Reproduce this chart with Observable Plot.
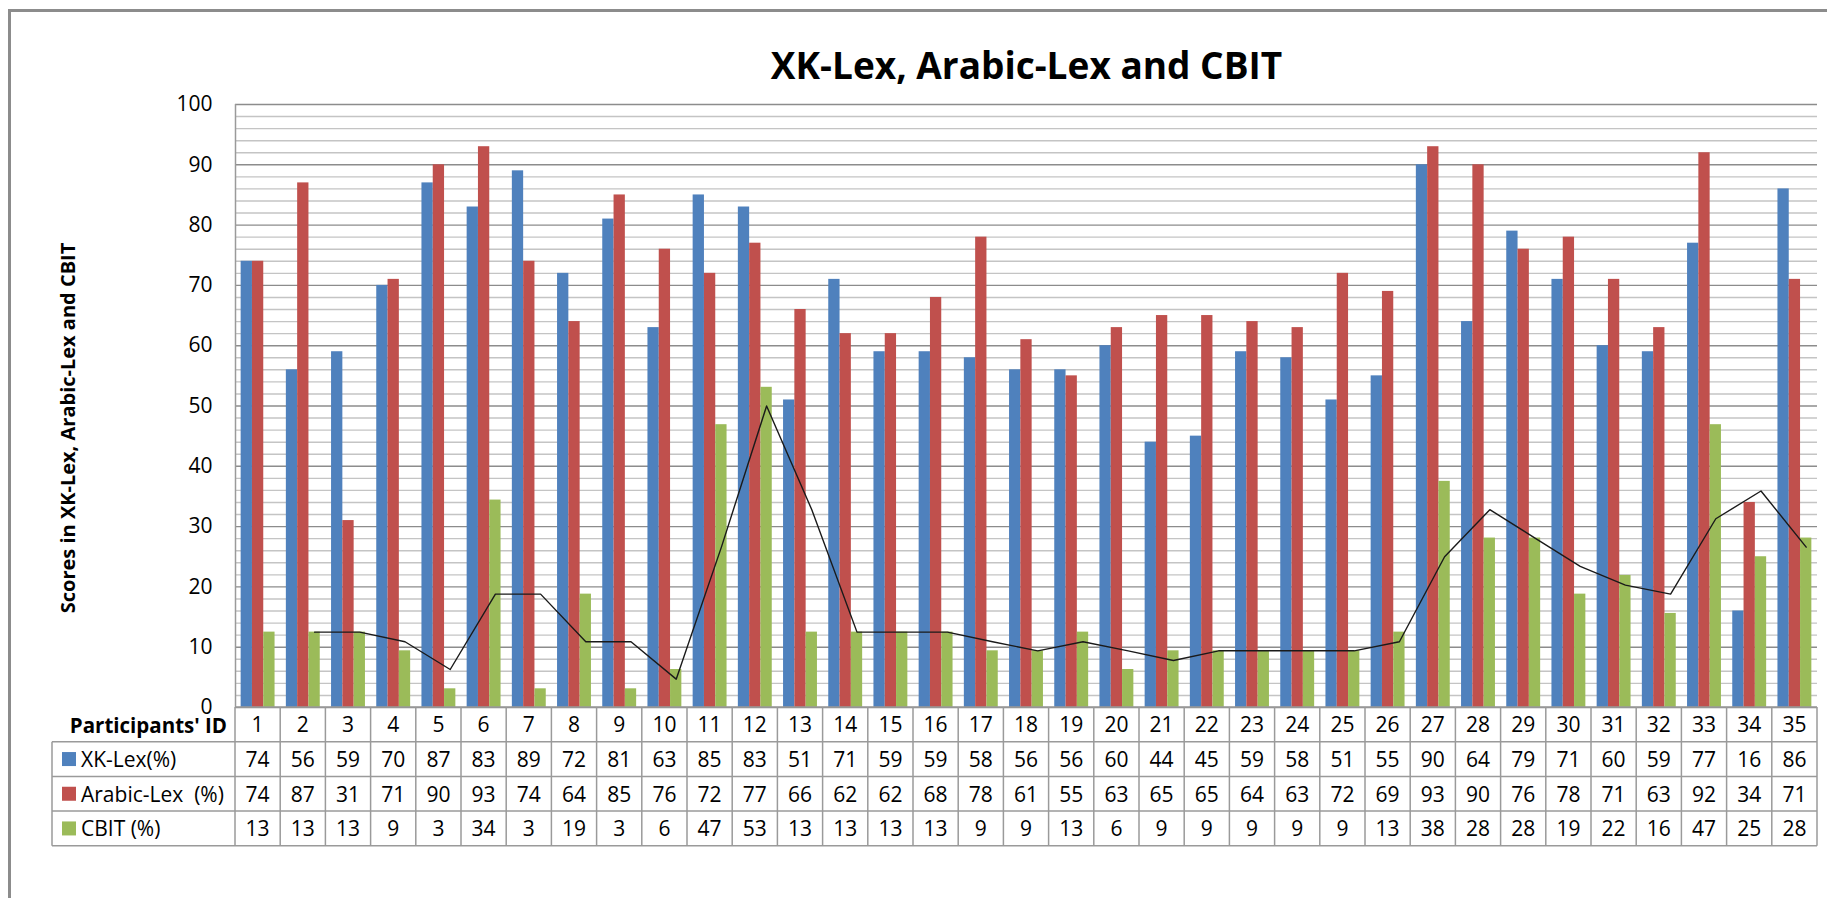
<!DOCTYPE html>
<html>
<head>
<meta charset="utf-8">
<script src="https://cdn.jsdelivr.net/npm/d3@7"></script>
<script src="https://cdn.jsdelivr.net/npm/@observablehq/plot@0.6"></script>
<style>
  html, body { margin: 0; padding: 0; background: #fff; }
  #wrap { position: relative; width: 1827px; height: 898px; overflow: hidden; font-family: "Open Sans", sans-serif; }
  #chart { position: absolute; left: 0; top: 0; }
  #border { position: absolute; left: 8px; top: 9px; width: 2000px; height: 1200px; border: 3px solid #8c8c8c; box-sizing: border-box; pointer-events: none; z-index: 2; }
</style>
</head>
<body>
<div id="wrap"><div id="chart"></div><div id="border"></div></div>
<script>
// ---------- data ----------
const participants = [1,2,3,4,5,6,7,8,9,10,11,12,13,14,15,16,17,18,19,20,21,22,23,24,25,26,27,28,29,30,31,32,33,34,35];
const xkLex =     [74,56,59,70,87,83,89,72,81,63,85,83,51,71,59,59,58,56,56,60,44,45,59,58,51,55,90,64,79,71,60,59,77,16,86];
const arabicLex = [74,87,31,71,90,93,74,64,85,76,72,77,66,62,62,68,78,61,55,63,65,65,64,63,72,69,93,90,76,78,71,63,92,34,71];
// CBIT bar heights (as drawn)
const cbit =      [12.5,12.5,12.5,9.4,3.1,34.4,3.1,18.8,3.1,6.3,46.9,53.1,12.5,12.5,12.5,12.5,9.4,9.4,12.5,6.3,9.4,9.4,9.4,9.4,9.4,12.5,37.5,28.1,28.1,18.8,21.9,15.6,46.9,25,28.1];
// CBIT values as printed in the data table
const cbitLabels = [13,13,13,9,3,34,3,19,3,6,47,53,13,13,13,13,9,9,13,6,9,9,9,9,9,13,38,28,28,19,22,16,47,25,28];
// black trend line (2-period moving average) as drawn
const trend = [null,12.5,12.5,10.9,6.3,18.8,18.8,10.9,10.9,4.7,26.6,50,32.8,12.5,12.5,12.5,10.9,9.4,10.9,9.4,7.8,9.4,9.4,9.4,9.4,10.9,25,32.8,28.1,23.4,20.3,18.8,31.3,35.9,26.6];

const seriesNames = ["XK-Lex(%)", "Arabic-Lex  (%)", "CBIT (%)"];
const seriesColors = ["#4f81bd", "#c0504d", "#9bbb59"];
const yMajor = [0,10,20,30,40,50,60,70,80,90,100];
const yMinor = [2,4,6,8,12,14,16,18,22,24,26,28,32,34,36,38,42,44,46,48,52,54,56,58,62,64,66,68,72,74,76,78,82,84,86,88,92,94,96,98];
const title = "XK-Lex, Arabic-Lex and CBIT";
const yLabel = "Scores in XK-Lex, Arabic-Lex and CBIT";
const idHeader = "Participants' ID";

// ---------- build tables ----------
const rows = participants.map((id, i) => ({id, xk: xkLex[i], ar: arabicLex[i], cb: cbit[i], trend: trend[i]}));
const series = [
  {key: "xk", off: 0},
  {key: "ar", off: 1},
  {key: "cb", off: 2}
];
const barW = 0.25; // share of a category slot per bar

const W = 1827, H = 898;
const mLeft = 235, mRight = 10, mTop = 104, mBottom = 191;

const barMarks = series.map((s, k) => Plot.rectY(rows, {
  x1: d => d.id - 0.375 + s.off * barW,
  x2: d => d.id - 0.375 + (s.off + 1) * barW,
  y: s.key,
  fill: seriesColors[k]
}));

const plot = Plot.plot({
  width: W,
  height: H,
  marginLeft: mLeft,
  marginRight: mRight,
  marginTop: mTop,
  marginBottom: mBottom,
  style: {fontFamily: "'Open Sans', sans-serif", fontSize: "21px", color: "#000", background: "transparent"},
  x: {type: "linear", domain: [0.5, 35.5], axis: null},
  y: {domain: [0, 100], ticks: yMajor, tickSize: 0, tickPadding: 23, label: null, tickFormat: d => String(d)},
  marks: [
    Plot.ruleY(yMinor, {stroke: "#c4c4c4", strokeWidth: 1.4}),
    Plot.ruleY(yMajor, {stroke: "#8c8c8c", strokeWidth: 1.4}),
    Plot.ruleX([0.5], {stroke: "#9a9a9a", strokeWidth: 1.5}),
    ...barMarks,
    Plot.line(rows.filter(d => d.trend != null), {x: d => d.id + 0.25, y: "trend", stroke: "#1a1a1a", strokeWidth: 1.4}),
    Plot.text([title], {frameAnchor: "top", dy: -52, fontSize: 37, fontWeight: "bold", fill: "#000"}),
    Plot.text([yLabel], {frameAnchor: "left", textAnchor: "middle", rotate: -90, dx: -167, dy: 22, fontSize: 20, fontWeight: "bold", fill: "#000"})
  ]
});

document.getElementById("chart").appendChild(plot);

// ---------- data table under the chart, positioned with the plot's own scales ----------
const sx = plot.scale("x"), sy = plot.scale("y");
const X = v => sx.apply(v);
const y0 = sy.apply(0);
const rowH = 34.7;
const tableLeft = 52;
const xEnd = X(35.5);
const svg = d3.select(plot);
const g = svg.append("g").attr("class", "data-table");
const lineColor = "#9a9a9a";

// horizontal lines
g.append("line").attr("x1", X(0.5)).attr("x2", xEnd).attr("y1", y0).attr("y2", y0)
  .attr("stroke", lineColor).attr("stroke-width", 1.5);
for (let k = 1; k <= 4; k++) {
  g.append("line").attr("x1", tableLeft).attr("x2", xEnd).attr("y1", y0 + k * rowH).attr("y2", y0 + k * rowH)
    .attr("stroke", lineColor).attr("stroke-width", 1.5);
}
// vertical lines
g.append("line").attr("x1", tableLeft).attr("x2", tableLeft).attr("y1", y0 + rowH).attr("y2", y0 + 4 * rowH)
  .attr("stroke", lineColor).attr("stroke-width", 1.5);
for (let i = 0; i <= participants.length; i++) {
  const xv = X(i + 0.5);
  g.append("line").attr("x1", xv).attr("x2", xv).attr("y1", y0).attr("y2", y0 + 4 * rowH)
    .attr("stroke", lineColor).attr("stroke-width", 1.5);
}

const textStyle = sel => sel.attr("font-family", "'Open Sans', sans-serif").attr("font-size", 21).attr("fill", "#000")
  .attr("dominant-baseline", "central");

// header row
g.append("text").text(idHeader).attr("x", 227).attr("y", y0 + rowH / 2 + 1).attr("text-anchor", "end")
  .call(textStyle).attr("font-weight", "bold").attr("font-size", 20.5);
participants.forEach(id => {
  g.append("text").text(id).attr("x", X(id)).attr("y", y0 + rowH / 2).attr("text-anchor", "middle").call(textStyle);
});

const tableValues = [xkLex, arabicLex, cbitLabels];
tableValues.forEach((vals, k) => {
  const cy = y0 + rowH * (k + 1.5);
  g.append("rect").attr("x", 62).attr("y", cy - 7).attr("width", 14).attr("height", 14).attr("fill", seriesColors[k]);
  g.append("text").text(seriesNames[k]).attr("x", 81).attr("y", cy).attr("text-anchor", "start")
    .attr("xml:space", "preserve").style("white-space", "pre").call(textStyle);
  vals.forEach((v, i) => {
    g.append("text").text(v).attr("x", X(participants[i])).attr("y", cy).attr("text-anchor", "middle").call(textStyle);
  });
});
</script>
</body>
</html>
